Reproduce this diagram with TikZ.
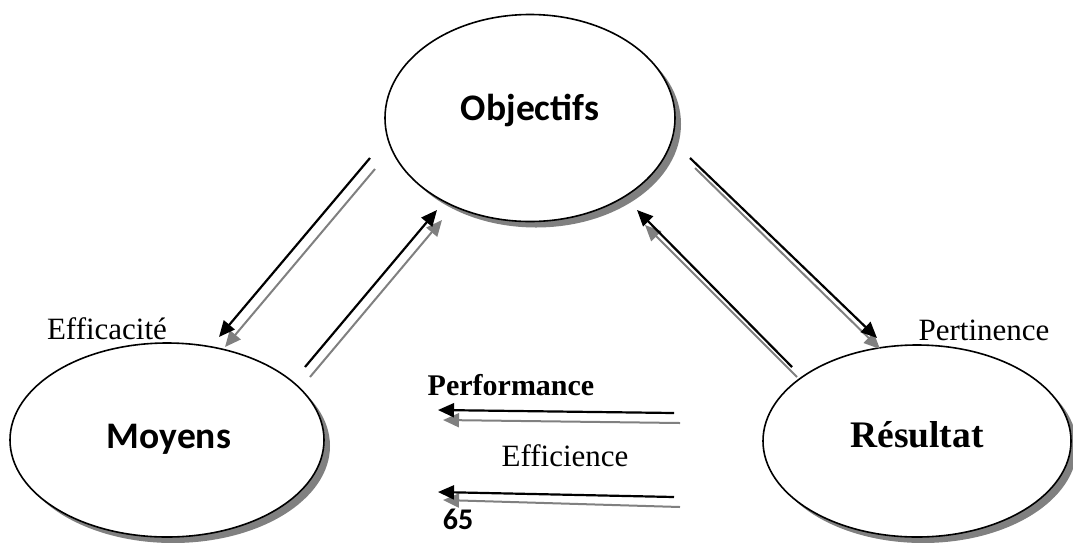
\documentclass[tikz,border=0pt]{standalone}
\usepackage{fontspec}
\setmainfont{Liberation Serif}
\newfontfamily\calib{Carlito}
\usetikzlibrary{shapes.geometric,shadows,arrows.meta}
\definecolor{shgray}{RGB}{128,128,128}
\begin{document}
\begin{tikzpicture}[x=1pt,y=-1pt,
  oval/.style={ellipse,draw=black,line width=1.6pt,fill=white,inner sep=0pt,
    drop shadow={shadow xshift=6pt,shadow yshift=-6pt,fill=shgray,opacity=1}},
  blk/.style={draw=black,line width=2.2pt,-{Triangle[length=16pt,width=14pt]}},
  gry/.style={draw=shgray,line width=2pt,-{Triangle[length=16pt,width=14pt]}},
  lbl/.style={anchor=base,inner sep=0pt}]
\useasboundingbox (0,0) rectangle (1073,542);
% ellipses
\node[oval,minimum width=290pt,minimum height=207pt] (obj) at (530,118) {};
\node[oval,minimum width=314pt,minimum height=194pt] (moy) at (167,440) {};
\node[oval,minimum width=308pt,minimum height=192pt] (res) at (917,441) {};
% texts
\node[lbl,font=\calib\bfseries\fontsize{37.5}{40}\selectfont] (tobj) at (530,120) {Objectifs};
\node[lbl,font=\calib\bfseries\fontsize{37.5}{40}\selectfont] (tmoy) at (169,448) {Moyens};
\node[lbl,font=\bfseries\fontsize{37.5}{40}\selectfont] (tres) at (917,447) {Résultat};
\node[lbl,font=\fontsize{31}{34}\selectfont] (tper) at (984,340) {Pertinence};
\node[lbl,font=\fontsize{31}{34}\selectfont] (teff) at (107,339) {Efficacité};
\node[lbl,font=\bfseries\fontsize{30}{33}\selectfont] (tperf) at (511,395) {Performance};
\node[lbl,font=\fontsize{31}{34}\selectfont] (tefc) at (565,466) {Ef{}f{}icience};
\node[lbl,font=\calib\bfseries\fontsize{30}{33}\selectfont] (t65) at (458,529) {65};
% arrow end points
\coordinate (a1s) at (370,158); \coordinate (a1e) at (219,337);
\coordinate (a2s) at (375,169); \coordinate (a2e) at (225,347);
\coordinate (b1s) at (305,367); \coordinate (b1e) at (437,210);
\coordinate (b2s) at (310,377); \coordinate (b2e) at (442,220);
\coordinate (c1s) at (690,158); \coordinate (c1e) at (877,338);
\coordinate (c2s) at (695,168); \coordinate (c2e) at (880,349);
\coordinate (d1s) at (792,367); \coordinate (d1e) at (637,210);
\coordinate (d2s) at (797,377); \coordinate (d2e) at (645,225);
\coordinate (h1s) at (674,413); \coordinate (h1e) at (438,410);
\coordinate (h2s) at (680,423); \coordinate (h2e) at (443,420);
\coordinate (k1s) at (674,497); \coordinate (k1e) at (438,492);
\coordinate (k2s) at (680,507); \coordinate (k2e) at (443,500);
% arrows (gray first, black on top)
\draw[gry] (a2s) -- (a2e);
\draw[blk] (a1s) -- (a1e);
\draw[gry] (b2s) -- (b2e);
\draw[blk] (b1s) -- (b1e);
\draw[gry] (c2s) -- (c2e);
\draw[blk] (c1s) -- (c1e);
\draw[gry] (d2s) -- (d2e);
\draw[blk] (d1s) -- (d1e);
\draw[gry] (h2s) -- (h2e);
\draw[blk] (h1s) -- (h1e);
\draw[gry] (k2s) -- (k2e);
\draw[blk] (k1s) -- (k1e);
\end{tikzpicture}
\end{document}
